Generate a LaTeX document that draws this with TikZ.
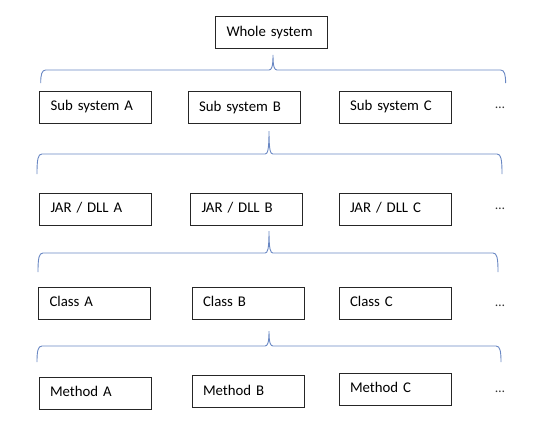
\documentclass[tikz,border=0pt]{standalone}
\usepackage{fontspec}
\setmainfont{Carlito}
\definecolor{bracecol}{RGB}{105,135,195}
\newcommand{\hbrace}[7]{% xL xR xP yH yT yB name
  \draw[brace] (#1,#6) .. controls (#1,{#4+5}) and ({#1+1},#4) .. ({#1+5},#4)
    -- ({#3-4},#4) .. controls ({#3-1.5},#4) and (#3,{#4-3}) .. (#3,#5) coordinate (#7)
    .. controls (#3,{#4-3}) and ({#3+1.5},#4) .. ({#3+4},#4)
    -- ({#2-5},#4) .. controls ({#2-1},#4) and (#2,{#4+5}) .. (#2,#6);}
\begin{document}
\begin{tikzpicture}[x=1bp,y=-1bp,
  box/.style={draw=black!85, line width=0.9bp, text width=90bp, align=left,
    inner xsep=11bp, inner ysep=0pt, minimum height=32bp,
    text height=10.5bp, text depth=3bp, font=\fontsize{14.8bp}{17bp}\selectfont},
  dots/.style={font=\fontsize{13.5bp}{16bp}\selectfont, inner sep=0pt, text=black!80},
  brace/.style={draw=bracecol, line width=0.9bp}]
\useasboundingbox (0,0) rectangle (546,424);

\node[box] (whole) at (271.5,32.5) {Whole system};

\node[box] (subA) at (95.5,107) {Sub system A};
\node[box] (subB) at (244,107.5) {Sub system B};
\node[box] (subC) at (395,107) {Sub system C};
\node[dots] (subD) at (500,108) {…};

\node[box] (jarA) at (95.5,209) {JAR / DLL A};
\node[box] (jarB) at (246.5,209) {JAR / DLL B};
\node[box] (jarC) at (395,209) {JAR / DLL C};
\node[dots] (jarD) at (500,209) {…};

\node[box] (clsA) at (94.5,303) {Class A};
\node[box] (clsB) at (248,303) {Class B};
\node[box] (clsC) at (395,303) {Class C};
\node[dots] (clsD) at (500,306) {…};

\node[box] (metA) at (95,393) {Method A};
\node[box] (metB) at (248,391.5) {Method B};
\node[box] (metC) at (395,389) {Method C};
\node[dots] (metD) at (500,392) {…};

\hbrace{40.7}{505.6}{273}{70}{55}{83}{br1}
\hbrace{37}{502}{269}{154}{131}{174}{br2}
\hbrace{38}{498}{269}{253}{231}{272}{br3}
\hbrace{37}{501}{269}{346}{331}{362}{br4}
\end{tikzpicture}
\end{document}
